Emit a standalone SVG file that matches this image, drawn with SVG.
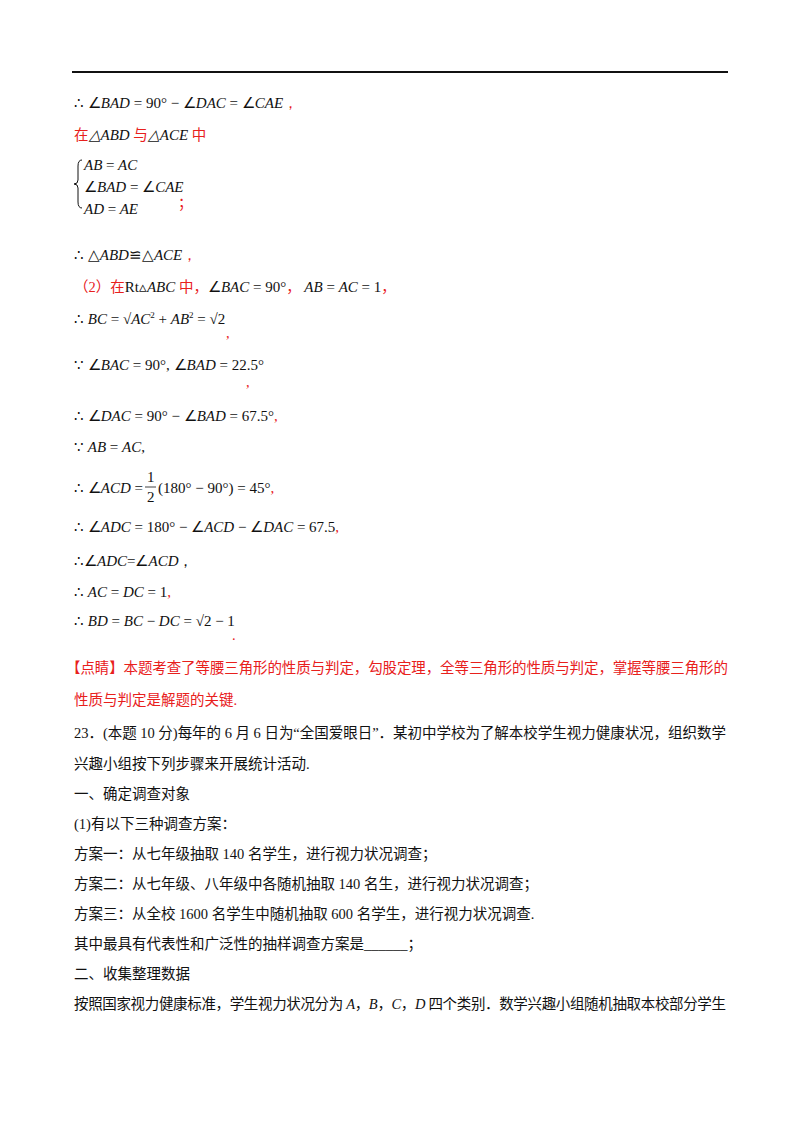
<svg xmlns="http://www.w3.org/2000/svg" width="800" height="1132" viewBox="0 0 800 1132">
<style>
.m{font-family:"Liberation Serif",serif;font-size:15px;font-style:italic;fill:#111}
.n{font-style:normal}
.c{font-family:"Liberation Serif","Noto Sans CJK SC",serif;font-size:14.5px;fill:#111}
.r{fill:#e8201c}
</style>
<rect width="800" height="1132" fill="#fff"/>
<line x1="72" y1="72" x2="728" y2="72" stroke="#111" stroke-width="2"/>
<g id="part1">
<text class="m" x="74" y="108"><tspan class="n">∴ ∠</tspan>BAD <tspan class="n">= 90° − ∠</tspan>DAC <tspan class="n">= ∠</tspan>CAE<tspan class="n r">，</tspan></text>
<text class="c r" x="74" y="140">在<tspan class="m" fill="#111">△ABD</tspan> 与<tspan class="m" fill="#111">△ACE</tspan> 中</text>
<path d="M82,160 q-4,0 -4,6 v14 q0,4 -4,4 q4,0 4,4 v14 q0,6 4,6" fill="none" stroke="#111" stroke-width="1"/>
<text class="m" x="84" y="170">AB <tspan class="n">=</tspan> AC</text>
<text class="m" x="84" y="192"><tspan class="n">∠</tspan>BAD <tspan class="n">= ∠</tspan>CAE</text>
<text class="m" x="84" y="214">AD <tspan class="n">=</tspan> AE</text>
<text class="c r" x="178" y="208">；</text>
<text class="m" x="74" y="260"><tspan class="n">∴ △</tspan>ABD<tspan class="n">≌△</tspan>ACE<tspan class="n r">，</tspan></text>
<text class="c r" x="74" y="292">（2）在<tspan class="m n" fill="#111">Rt▵</tspan><tspan class="m" fill="#111">ABC</tspan> 中，<tspan class="m n" fill="#111">∠</tspan><tspan class="m" fill="#111">BAC</tspan><tspan class="m n" fill="#111"> = 90°</tspan>， <tspan class="m" fill="#111">AB</tspan><tspan class="m n" fill="#111"> = </tspan><tspan class="m" fill="#111">AC</tspan><tspan class="m n" fill="#111"> = 1</tspan>，</text>
</g>
<g id="part2">
<text class="m" x="74" y="324"><tspan class="n">∴ </tspan>BC <tspan class="n">= √</tspan>AC<tspan class="n" font-size="9" dy="-6">2</tspan><tspan class="n" dy="6"> + </tspan>AB<tspan class="n" font-size="9" dy="-6">2</tspan><tspan class="n" dy="6"> = √2</tspan></text>
<text class="c r" x="226" y="338">,</text>
<text class="m" x="74" y="370"><tspan class="n">∵ ∠</tspan>BAC <tspan class="n">= 90°, ∠</tspan>BAD <tspan class="n">= 22.5°</tspan></text>
<text class="c r" x="246" y="387">,</text>
<text class="m" x="74" y="421"><tspan class="n">∴ ∠</tspan>DAC <tspan class="n">= 90° − ∠</tspan>BAD <tspan class="n">= 67.5°</tspan><tspan class="n r">,</tspan></text>
<text class="m" x="74" y="452"><tspan class="n">∵ </tspan>AB <tspan class="n">= </tspan>AC<tspan class="n">,</tspan></text>
<text class="m" x="74" y="493"><tspan class="n">∴ ∠</tspan>ACD <tspan class="n">= </tspan></text>
<text class="m n" x="147" y="482" font-size="14">1</text>
<line x1="145" y1="487" x2="156" y2="487" stroke="#111" stroke-width="0.8"/>
<text class="m n" x="147" y="502" font-size="14">2</text>
<text class="m n" x="158" y="493">(180° − 90°) = 45°<tspan class="r">,</tspan></text>
<text class="m" x="74" y="532"><tspan class="n">∴ ∠</tspan>ADC <tspan class="n">= 180° − ∠</tspan>ACD <tspan class="n">− ∠</tspan>DAC <tspan class="n">= 67.5</tspan><tspan class="n r">,</tspan></text>
<text class="m" x="74" y="566" fill="#e8201c"><tspan class="n">∴∠</tspan>ADC<tspan class="n">=∠</tspan>ACD<tspan class="n">，</tspan></text>
<text class="m" x="74" y="597"><tspan class="n">∴ </tspan>AC <tspan class="n">= </tspan>DC <tspan class="n">= 1</tspan><tspan class="n r">,</tspan></text>
<text class="m" x="74" y="626"><tspan class="n">∴ </tspan>BD <tspan class="n">= </tspan>BC <tspan class="n">− </tspan>DC <tspan class="n">= √2 − 1</tspan></text>
<text class="c r" x="232" y="640">.</text>
</g>
<g id="part3" class="c">
<text class="c r" x="66" y="673" textLength="662" lengthAdjust="spacing">【点睛】本题考查了等腰三角形的性质与判定，勾股定理，全等三角形的性质与判定，掌握等腰三角形的</text>
<text class="c r" x="74" y="705">性质与判定是解题的关键.</text>
<text class="c" x="74" y="738" textLength="652" lengthAdjust="spacing">23．(本题 10 分)每年的 6 月 6 日为“全国爱眼日”．某初中学校为了解本校学生视力健康状况，组织数学</text>
<text class="c" x="74" y="769">兴趣小组按下列步骤来开展统计活动.</text>
<text class="c" x="74" y="799">一、确定调查对象</text>
<text class="c" x="74" y="829">(1)有以下三种调查方案：</text>
<text class="c" x="74" y="859">方案一：从七年级抽取 140 名学生，进行视力状况调查；</text>
<text class="c" x="74" y="889">方案二：从七年级、八年级中各随机抽取 140 名生，进行视力状况调查；</text>
<text class="c" x="74" y="919">方案三：从全校 1600 名学生中随机抽取 600 名学生，进行视力状况调查.</text>
<text class="c" x="74" y="949">其中最具有代表性和广泛性的抽样调查方案是______；</text>
<text class="c" x="74" y="979">二、收集整理数据</text>
<text class="c" x="74" y="1009" textLength="652" lengthAdjust="spacing">按照国家视力健康标准，学生视力状况分为 <tspan font-style="italic">A</tspan>，<tspan font-style="italic">B</tspan>，<tspan font-style="italic">C</tspan>，<tspan font-style="italic">D</tspan> 四个类别．数学兴趣小组随机抽取本校部分学生</text>
</g>
</svg>
